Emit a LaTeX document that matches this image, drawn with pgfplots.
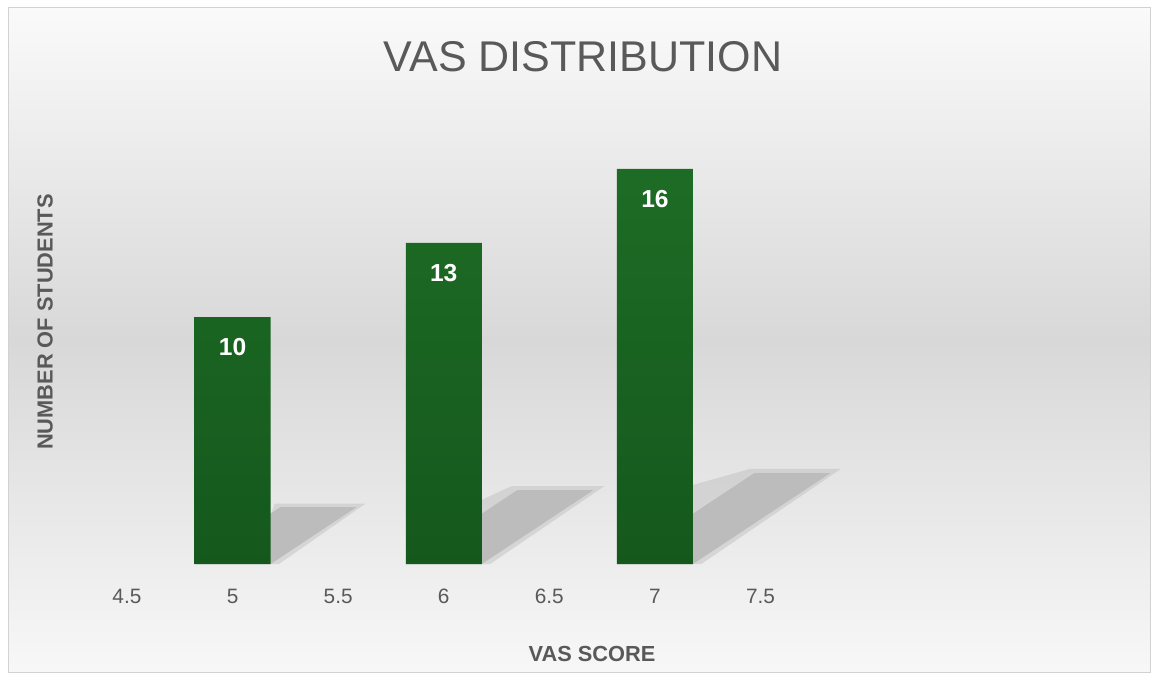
\documentclass[border=0pt]{standalone}
\usepackage{pgfplots}
\pgfplotsset{compat=1.18}
\usepackage{fontspec}
\setmainfont{Liberation Sans}
\definecolor{txt}{RGB}{89,89,89}
\definecolor{bartop}{RGB}{29,108,37}
\definecolor{barbot}{RGB}{21,88,29}
\definecolor{shad}{RGB}{188,188,188}
\definecolor{bgmid}{RGB}{216,216,216}
\definecolor{brd}{RGB}{210,210,210}
\begin{document}
\begin{tikzpicture}
\useasboundingbox (0,0) rectangle (577pt,337.5pt);
\shade[top color=white!98!black, bottom color=white!97!black, middle color=bgmid] (4pt,1.5pt) rectangle (575pt,333.5pt);
\draw[brd, line width=0.5pt] (4pt,1.5pt) rectangle (575pt,333.5pt);
\node[text=txt, font=\fontsize{21.5}{25}\selectfont] at (291.5pt,309pt) {VAS DISTRIBUTION};
\begin{axis}[
  at={(37.5pt,55.5pt)}, anchor=south west,
  scale only axis, width=517pt, height=242pt,
  xmin=4.254, xmax=9.15, ymin=0, ymax=19.6,
  axis line style={draw=none}, tick style={draw=none},
  ytick=\empty,
  xtick={4.5,5,5.5,6,6.5,7,7.5},
  xticklabels={4.5,5,5.5,6,6.5,7,7.5},
  xticklabel style={anchor=center, yshift=-16pt, text=txt, font=\fontsize{10.4}{12}\selectfont},
  every axis x label/.style={at={(axis description cs:0.5,0)}, anchor=center, yshift=-45pt, text=txt, font=\fontsize{10.9}{12}\selectfont\bfseries},
  every axis y label/.style={at={(axis description cs:0,0.5)}, rotate=90, anchor=center, yshift=15pt, text=txt, font=\fontsize{10.9}{12}\selectfont\bfseries},
  xlabel={VAS SCORE},
  ylabel={NUMBER OF STUDENTS},
  /pgf/number format/assume math mode=true,
  clip=false,
]
% perspective shadows
\addplot[fill=shad, draw=none, opacity=0.45] coordinates {(5.18,0) (5.18,2.0) (5.20,2.45) (5.63,2.45) (5.22,0)};
\addplot[fill=shad, draw=none] coordinates {(4.82,0) (5.18,0) (5.586,2.3) (5.226,2.3) (4.82,0)};
\addplot[fill=shad, draw=none, opacity=0.45] coordinates {(6.18,0) (6.18,2.6) (6.32,3.15) (6.76,3.15) (6.22,0)};
\addplot[fill=shad, draw=none] coordinates {(5.82,0) (6.18,0) (6.708,2.99) (6.348,2.99) (5.82,0)};
\addplot[fill=shad, draw=none, opacity=0.45] coordinates {(7.18,0) (7.18,3.2) (7.45,3.85) (7.88,3.85) (7.22,0)};
\addplot[fill=shad, draw=none] coordinates {(6.82,0) (7.18,0) (7.83,3.68) (7.47,3.68) (6.82,0)};
% bars
\addplot[ybar, bar width=38pt, draw=none, shade, top color=bartop, bottom color=barbot,
  nodes near coords,
  every node near coord/.append style={anchor=center, yshift=-15pt, text=white, font=\fontsize{12.3}{14}\selectfont\bfseries}]
  coordinates {(5,10) (6,13) (7,16)};
\end{axis}
\end{tikzpicture}
\end{document}
